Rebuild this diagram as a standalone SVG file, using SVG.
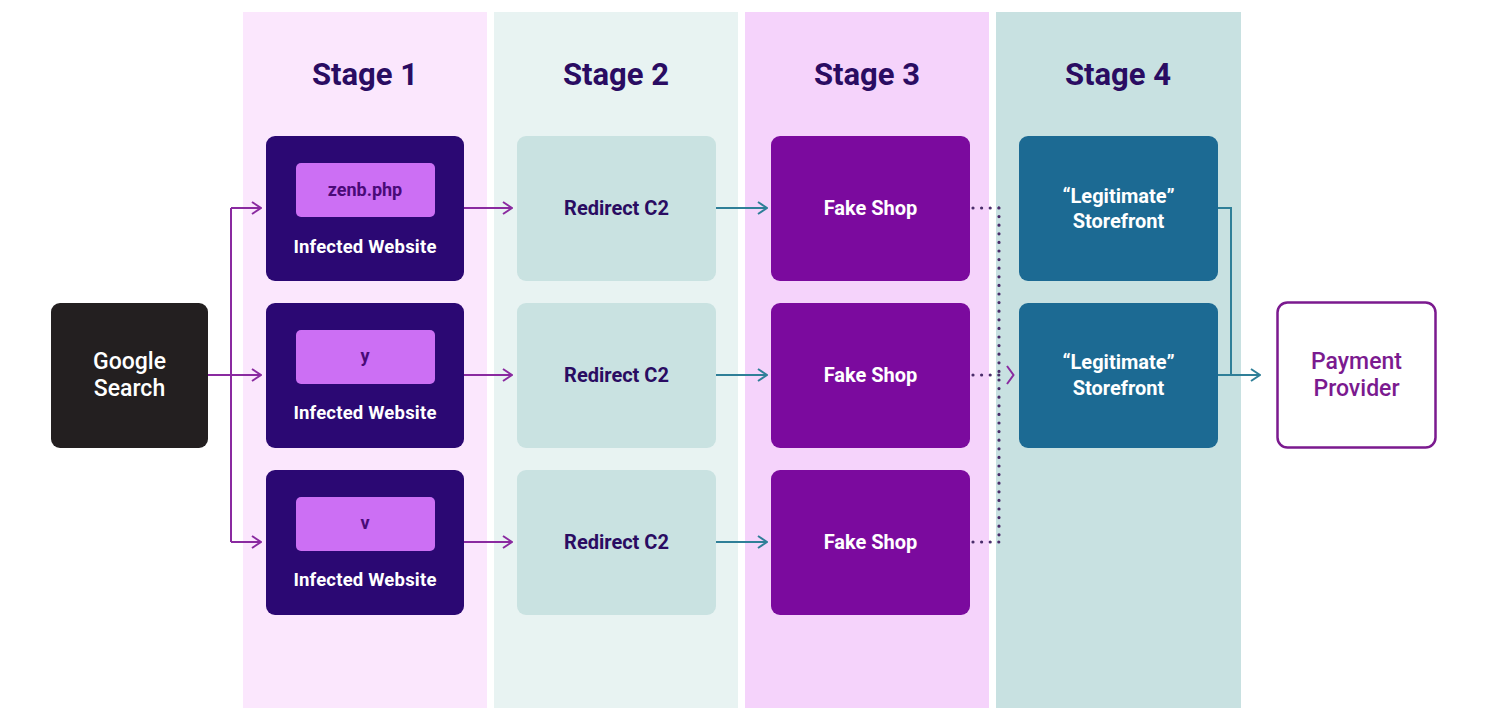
<svg xmlns="http://www.w3.org/2000/svg" width="1495" height="721" viewBox="0 0 1495 721">
<defs>
<style>
.t{font-family:Roboto,"Liberation Sans",sans-serif;text-anchor:middle;dominant-baseline:central}
.title{font-size:31px;font-weight:700;fill:#2a0c62}
.lbl{font-size:20px;font-weight:700}
.w{fill:#ffffff}
.dk{fill:#2a0c62}
.c1{fill:#2b0873}
.c2{fill:#c9e2e1}
.c3{fill:#7b0a9e}
.c4{fill:#1c6a93}
.iw{font-size:18.5px;font-weight:700;letter-spacing:0.2px}
.inn{font-size:18px;font-weight:700;fill:#4a0a78}
.pp{stroke:#8a2aa0;stroke-width:2;fill:none}
.tl{stroke:#2f7f98;stroke-width:2;fill:none}
.dot{stroke:#4a2d6a;stroke-width:3.2;stroke-dasharray:0 8.6;stroke-linecap:round;fill:none}
</style>
<marker id="ap" viewBox="0 0 12 14" refX="11" refY="7" markerWidth="12" markerHeight="14" markerUnits="userSpaceOnUse" orient="auto">
<path d="M2,1 L11,7 L2,13" fill="none" stroke="#8a2aa0" stroke-width="2"/>
</marker>
<marker id="at" viewBox="0 0 12 14" refX="11" refY="7" markerWidth="12" markerHeight="14" markerUnits="userSpaceOnUse" orient="auto">
<path d="M2,1 L11,7 L2,13" fill="none" stroke="#2f7f98" stroke-width="2"/>
</marker>
</defs>
<rect width="1495" height="721" fill="#ffffff"/>
<g id="lanes">
<rect x="243" y="12" width="244" height="696" fill="#fbe7fd"/>
<rect x="494" y="12" width="244" height="696" fill="#e8f3f2"/>
<rect x="745" y="12" width="244" height="696" fill="#f5d3fb"/>
<rect x="996" y="12" width="245" height="696" fill="#c8e1e1"/>
<text class="t title" x="365" y="74">Stage 1</text>
<text class="t title" x="616" y="74">Stage 2</text>
<text class="t title" x="867" y="74">Stage 3</text>
<text class="t title" x="1118" y="74">Stage 4</text>
</g>
<g id="connectors">
<path class="pp" d="M208,375 H231 M231,208 V542"/>
<path class="pp" d="M231,208 H261" marker-end="url(#ap)"/>
<path class="pp" d="M231,375 H261" marker-end="url(#ap)"/>
<path class="pp" d="M231,542 H261" marker-end="url(#ap)"/>
<path class="pp" d="M464,208 H512" marker-end="url(#ap)"/>
<path class="pp" d="M464,375 H512" marker-end="url(#ap)"/>
<path class="pp" d="M464,542 H512" marker-end="url(#ap)"/>
<path class="tl" d="M716,208 H767" marker-end="url(#at)"/>
<path class="tl" d="M716,375 H767" marker-end="url(#at)"/>
<path class="tl" d="M716,542 H767" marker-end="url(#at)"/>
<path class="dot" d="M973,208 H999 M973,375 H999 M973,542 H999 M999,208 V542"/>
<path class="pp" d="M1007,366 L1013.5,375 L1007,384" stroke-width="2.2"/>
<path class="tl" d="M1218,208 H1231 V375"/>
<path class="tl" d="M1218,375 H1260" marker-end="url(#at)"/>
</g>
<g id="google-search">
<rect x="51" y="303" width="157" height="145" rx="9" fill="#231f20"/>
<text class="t w" x="129.5" y="361" style="font-size:23px;font-weight:500">Google</text>
<text class="t w" x="129.5" y="388" style="font-size:23px;font-weight:500">Search</text>
</g>
<g id="infected-1">
<rect class="c1" x="266" y="136" width="198" height="145" rx="9"/>
<rect x="296" y="163" width="139" height="54" rx="5" fill="#cc6ff4"/>
<text class="t inn" x="365" y="189">zenb.php</text>
<text class="t w iw" x="365" y="247">Infected Website</text>
</g>
<g id="infected-2">
<rect class="c1" x="266" y="303" width="198" height="145" rx="9"/>
<rect x="296" y="330" width="139" height="54" rx="5" fill="#cc6ff4"/>
<text class="t inn" x="365" y="355">y</text>
<text class="t w iw" x="365" y="413">Infected Website</text>
</g>
<g id="infected-3">
<rect class="c1" x="266" y="470" width="198" height="145" rx="9"/>
<rect x="296" y="497" width="139" height="54" rx="5" fill="#cc6ff4"/>
<text class="t inn" x="365" y="522">v</text>
<text class="t w iw" x="365" y="580">Infected Website</text>
</g>
<g id="redirect-1">
<rect class="c2" x="517" y="136" width="199" height="145" rx="9"/>
<text class="t lbl dk" x="616.5" y="208">Redirect C2</text>
</g>
<g id="redirect-2">
<rect class="c2" x="517" y="303" width="199" height="145" rx="9"/>
<text class="t lbl dk" x="616.5" y="375">Redirect C2</text>
</g>
<g id="redirect-3">
<rect class="c2" x="517" y="470" width="199" height="145" rx="9"/>
<text class="t lbl dk" x="616.5" y="542">Redirect C2</text>
</g>
<g id="fakeshop-1">
<rect class="c3" x="771" y="136" width="199" height="145" rx="9"/>
<text class="t lbl w" x="870.5" y="208">Fake Shop</text>
</g>
<g id="fakeshop-2">
<rect class="c3" x="771" y="303" width="199" height="145" rx="9"/>
<text class="t lbl w" x="870.5" y="375">Fake Shop</text>
</g>
<g id="fakeshop-3">
<rect class="c3" x="771" y="470" width="199" height="145" rx="9"/>
<text class="t lbl w" x="870.5" y="542">Fake Shop</text>
</g>
<g id="storefront-1">
<rect class="c4" x="1019" y="136" width="199" height="145" rx="9"/>
<text class="t lbl w" x="1118.5" y="196">“Legitimate”</text>
<text class="t lbl w" x="1118.5" y="221">Storefront</text>
</g>
<g id="storefront-2">
<rect class="c4" x="1019" y="303" width="199" height="145" rx="9"/>
<text class="t lbl w" x="1118.5" y="362">“Legitimate”</text>
<text class="t lbl w" x="1118.5" y="388">Storefront</text>
</g>
<g id="payment-provider">
<rect x="1277.5" y="302.5" width="158" height="145" rx="10" fill="#ffffff" stroke="#7b1a8f" stroke-width="2.5"/>
<text class="t" x="1356.5" y="361" style="font-size:23px;font-weight:500;fill:#7b1a8f">Payment</text>
<text class="t" x="1356.5" y="388" style="font-size:23px;font-weight:500;fill:#7b1a8f">Provider</text>
</g>
</svg>
